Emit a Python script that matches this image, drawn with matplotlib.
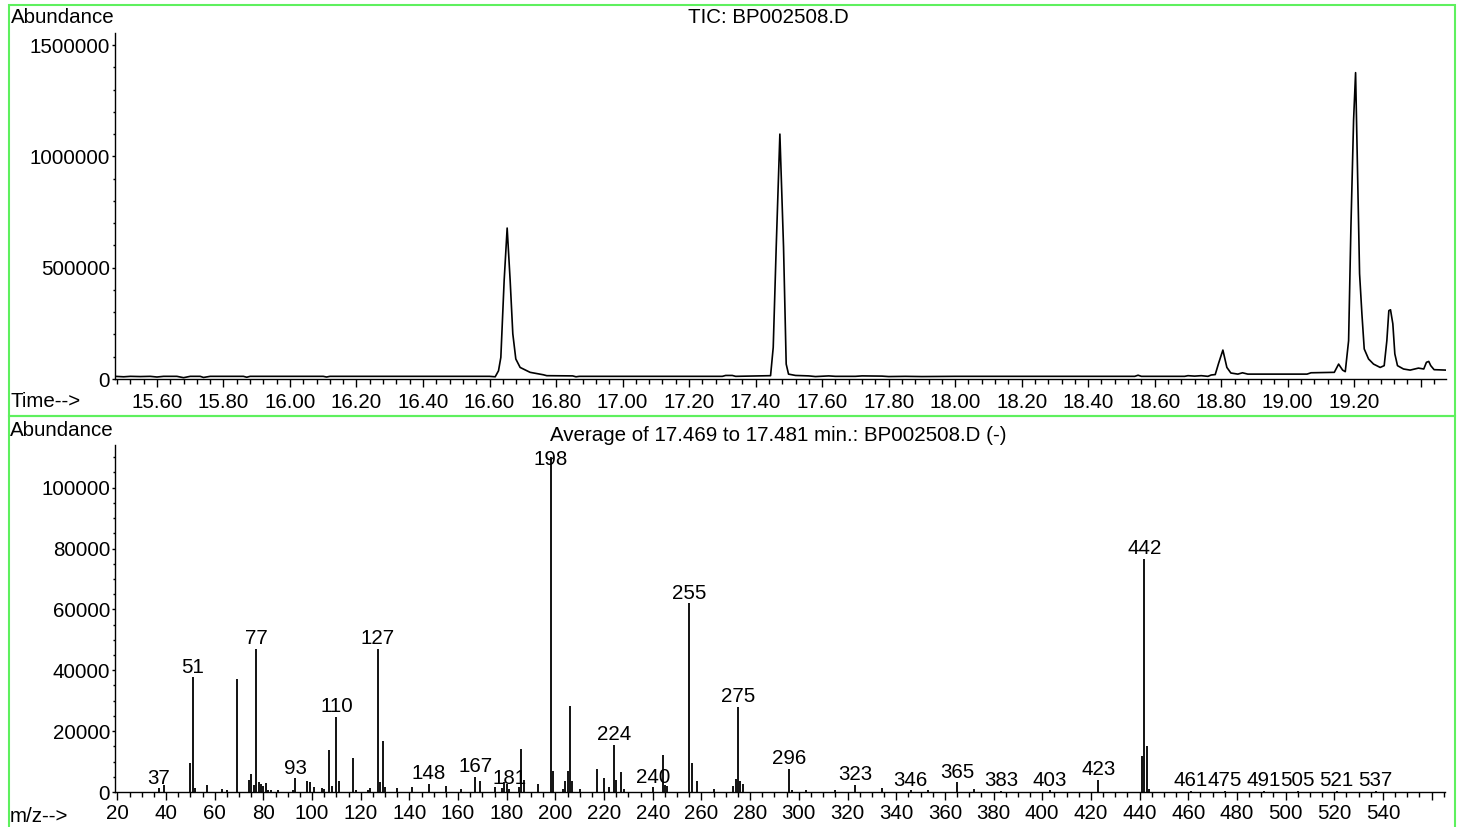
import numpy as np
import matplotlib.pyplot as plt
from matplotlib.patches import Rectangle
from matplotlib.ticker import MultipleLocator, FixedLocator

plt.rcParams['font.family'] = ['Liberation Sans', 'DejaVu Sans']
FS = 14.8

# TIC chromatogram (time in min, abundance)
tic_time = [15.474, 15.50, 15.52, 15.55, 15.58, 15.60, 15.62, 15.66, 15.68, 15.70,
            15.73, 15.74, 15.76, 15.86, 15.87, 15.88, 16.10, 16.11, 16.12, 16.60,
            16.617, 16.627, 16.634, 16.644, 16.653, 16.662, 16.670, 16.679, 16.692, 16.722,
            16.762, 16.772, 16.85, 16.86, 16.87, 17.30, 17.31, 17.33, 17.34, 17.445,
            17.453, 17.462, 17.473, 17.484, 17.492, 17.499, 17.52, 17.56, 17.58, 17.62,
            17.64, 17.70, 17.72, 17.78, 17.80, 17.85, 17.90, 18.00, 18.20, 18.40,
            18.54, 18.55, 18.56, 18.69, 18.70, 18.72, 18.74, 18.76, 18.77, 18.782,
            18.792, 18.805, 18.817, 18.829, 18.85, 18.864, 18.88, 19.058, 19.07, 19.14,
            19.153, 19.165, 19.173, 19.183, 19.190, 19.198, 19.204, 19.210, 19.216, 19.223,
            19.230, 19.243, 19.258, 19.278, 19.290, 19.298, 19.304, 19.309, 19.316, 19.322,
            19.330, 19.348, 19.368, 19.393, 19.409, 19.417, 19.424, 19.430, 19.440, 19.476]
tic_abund = [12000, 10000, 12000, 11000, 12000, 9000, 12000, 12000, 6000, 12000,
             12000, 7000, 12000, 12000, 8000, 12000, 12000, 9000, 12000, 12000,
             10000, 37000, 97000, 443000, 678000, 443000, 203000, 90000, 52000, 30000,
             19000, 15000, 14000, 10000, 12000, 12000, 16000, 16000, 12000, 15000,
             142000, 593000, 1100000, 593000, 67000, 22000, 16000, 14000, 11000, 14000,
             12000, 12000, 14000, 13000, 11000, 12000, 11000, 12000, 12000, 12000,
             12000, 17000, 12000, 12000, 15000, 13000, 15000, 12000, 18000, 20000,
             70000, 130000, 52000, 27000, 22000, 28000, 22000, 22000, 28000, 30000,
             67000, 40000, 33000, 172000, 683000, 1163000, 1376000, 923000, 473000, 293000,
             135000, 90000, 67000, 52000, 60000, 172000, 307000, 311000, 248000, 113000,
             60000, 45000, 40000, 49000, 45000, 75000, 79000, 60000, 42000, 40000]

# mass spectrum
mz = [37, 39, 50, 51, 52, 57, 63, 65, 69, 74, 75, 76, 77, 78, 79, 80, 81, 82, 83, 86,
      92, 93, 98, 99, 101, 104, 105, 107, 108, 110, 111, 117, 118, 123, 124, 127, 128, 129, 130, 135,
      141, 148, 155, 161, 167, 169, 175, 178, 179, 180, 181, 185, 186, 187, 193, 198, 199, 203, 204, 205,
      206, 207, 210, 217, 220, 222, 224, 225, 227, 228, 240, 244, 245, 246, 255, 256, 258, 265, 273, 274,
      275, 276, 277, 296, 297, 303, 315, 323, 334, 346, 353, 365, 372, 383, 403, 423, 441, 442, 443, 444,
      461, 475, 491, 505, 521, 537]
mz_abund = [1200, 2200, 9600, 37700, 1400, 2400, 1100, 800, 37000, 4000, 5800, 2400, 47000, 3300, 2500, 2000, 2900, 800, 500, 800,
            800, 4500, 3700, 3300, 1500, 1200, 900, 13800, 2000, 24800, 3700, 11300, 800, 800, 1200, 47000, 3300, 16800, 1600, 1200,
            1600, 2700, 1900, 1100, 4900, 3600, 1600, 1200, 3300, 2700, 1000, 1600, 14200, 4000, 2700, 110000, 7000, 1100, 3700, 7000,
            28200, 3600, 1100, 7500, 4500, 1500, 15400, 4000, 6600, 1100, 1500, 12100, 2200, 1900, 62000, 9600, 3600, 1100, 1900, 4400,
            28000, 3600, 2500, 7700, 800, 600, 800, 2400, 1400, 500, 800, 3200, 1100, 400, 500, 4000, 11800, 76500, 15000, 1100,
            300, 300, 300, 300, 300, 300]
labeled = [37, 51, 77, 93, 110, 127, 148, 167, 181, 198, 224, 240, 255, 275, 296, 323,
           346, 365, 383, 403, 423, 442, 461, 475, 491, 505, 521, 537]

fig = plt.figure(figsize=(14.58, 8.27), dpi=100)

def style_axes(ax, xpad=2):
    for s in ['top', 'right']:
        ax.spines[s].set_visible(False)
    ax.spines['left'].set_linewidth(1.0)
    ax.spines['bottom'].set_linewidth(1.0)
    ax.tick_params(axis='x', which='major', direction='out', length=6, width=1, pad=xpad, labelsize=FS)
    ax.tick_params(axis='x', which='minor', direction='out', length=3.5, width=1)
    ax.tick_params(axis='y', which='major', direction='out', length=2.5, width=1, pad=1, labelsize=FS)
    ax.tick_params(axis='y', which='minor', direction='out', length=1.5, width=1)

# --- top: TIC
ax1 = fig.add_axes([0.0789, 0.5417, 0.9129, 0.4184])
ax1.plot(tic_time, tic_abund, color='black', lw=1.2)
ax1.set_xlim(15.474, 19.476)
ax1.set_ylim(0, 1554000)
style_axes(ax1, xpad=4)
xt = np.round(np.arange(15.60, 19.41, 0.2), 2)
ax1.xaxis.set_major_locator(FixedLocator(xt))
ax1.set_xticklabels(['%.2f' % v if v < 19.3 else '' for v in xt])
ax1.xaxis.set_minor_locator(MultipleLocator(0.04))
ax1.yaxis.set_major_locator(FixedLocator([0, 500000, 1000000, 1500000]))
ax1.set_yticklabels(['0', '500000', '1000000', '1500000'])
ax1.yaxis.set_minor_locator(MultipleLocator(100000))

# --- bottom: spectrum
ax2 = fig.add_axes([0.0789, 0.0423, 0.9122, 0.4196])
ax2.vlines(mz, 0, mz_abund, color='black', lw=1.3)
ax2.set_xlim(19.05, 565.5)
ax2.set_ylim(0, 114000)
style_axes(ax2, xpad=2.5)
mt = list(range(20, 561, 20))
ax2.xaxis.set_major_locator(FixedLocator(mt))
ax2.set_xticklabels([str(v) if v <= 540 else '' for v in mt])
ax2.xaxis.set_minor_locator(MultipleLocator(5))
ax2.yaxis.set_major_locator(FixedLocator(range(0, 100001, 20000)))
ax2.set_yticklabels([str(v) for v in range(0, 100001, 20000)])
ax2.yaxis.set_minor_locator(MultipleLocator(5000))
for m in labeled:
    h = mz_abund[mz.index(m)]
    # labels are kept inside the plot area, so the tallest one sits on its line
    ax2.annotate(str(m), (m, min(h, 106000)), xytext=(0, 0.5), textcoords='offset points',
                 ha='center', va='bottom', fontsize=FS)

# texts
fig.text(0.0075, 0.9794, 'Abundance', fontsize=FS, va='center', ha='left')
fig.text(0.527, 0.9794, 'TIC: BP002508.D', fontsize=FS, va='center', ha='center')
fig.text(0.0075, 0.5151, 'Time-->', fontsize=FS, va='center', ha='left')
fig.text(0.0065, 0.480, 'Abundance', fontsize=FS, va='center', ha='left')
fig.text(0.5336, 0.4728, 'Average of 17.469 to 17.481 min.: BP002508.D (-)', fontsize=FS, va='center', ha='center')
fig.text(0.0065, 0.0133, 'm/z-->', fontsize=FS, va='center', ha='left')

# green frames
W, H = 1458.0, 827.0
green = '#5ef05e'
fig.patches.append(Rectangle((9 / W, 1 - 416 / H), (1455 - 9) / W, (416 - 5) / H,
                             transform=fig.transFigure, fill=False, ec=green, lw=1.5))
fig.patches.append(Rectangle((9 / W, 1 - 840 / H), (1455 - 9) / W, (840 - 416) / H,
                             transform=fig.transFigure, fill=False, ec=green, lw=1.5,
                             clip_on=False))

fig.savefig('out.png', dpi=100)
